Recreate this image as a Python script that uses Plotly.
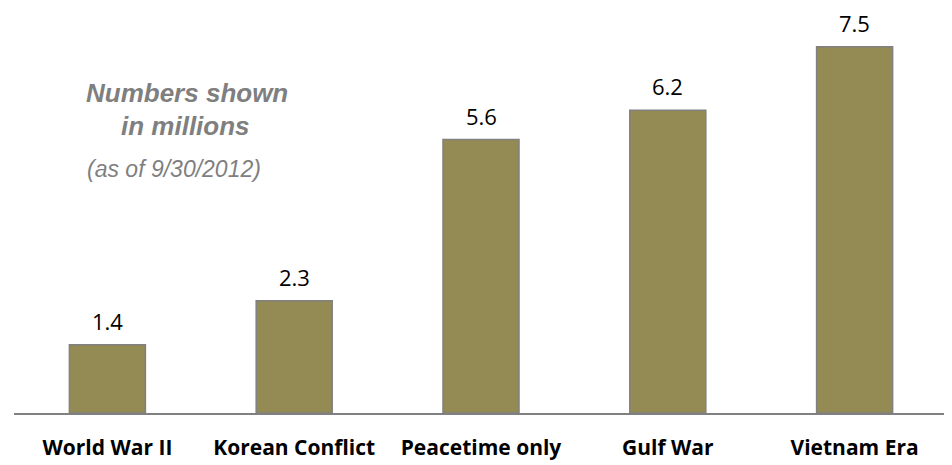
import plotly.graph_objects as go

# veterans by period of service, millions (as of 9/30/2012)
periods = ["World War II", "Korean Conflict", "Peacetime only", "Gulf War", "Vietnam Era"]
veterans = [1.4, 2.3, 5.6, 6.2, 7.5]

bar_color = "#948A54"
edge_color = "#808080"

# page body has an 8px default margin, so the figure is drawn 8px in
W, H = 944, 457
ml, mr, mt, mb = 6, 4, 6, 49
pw, ph = W - ml - mr, H - mt - mb
OFF = 8

fig = go.Figure()
fig.add_trace(go.Bar(
    x=periods, y=veterans,
    marker=dict(color=bar_color, line=dict(color=edge_color, width=1.5)),
    hoverinfo="x+y",
))

# value labels above each bar
for p, v in zip(periods, veterans):
    fig.add_annotation(x=p, y=v, text=f"{v}", showarrow=False,
                       yanchor="bottom", yshift=7,
                       font=dict(family="Open Sans", size=22, color="#000000"))

# side note, positioned in page pixels
notes = [
    ("<b><i>Numbers shown</i></b>", 186.5, 94, 26),
    ("<b><i>in millions</i></b>", 185, 127, 26),
    ("<i>(as of 9/30/2012)</i>", 173.5, 170, 23),
]
for txt, sx, sy, s in notes:
    fig.add_annotation(
        xref="paper", yref="paper",
        x=(sx - OFF - ml) / pw, y=1 - (sy - OFF - mt) / ph,
        text=txt, showarrow=False, xanchor="center", yanchor="middle",
        font=dict(family="Liberation Sans", size=s, color="#7F7F7F"),
    )

fig.update_layout(
    width=W, height=H,
    margin=dict(l=ml, r=mr, t=mt, b=mb),
    plot_bgcolor="white", paper_bgcolor="white",
    bargap=0.593,
    showlegend=False,
    xaxis=dict(
        showline=True, linecolor=edge_color, linewidth=2,
        showgrid=False, ticks="", ticklabelstandoff=15,
        tickfont=dict(family="Open Sans", size=21, color="#000000", weight="bold"),
    ),
    yaxis=dict(visible=False, range=[0, 8.17], showgrid=False, zeroline=False),
)

fig.write_html("out.html")
